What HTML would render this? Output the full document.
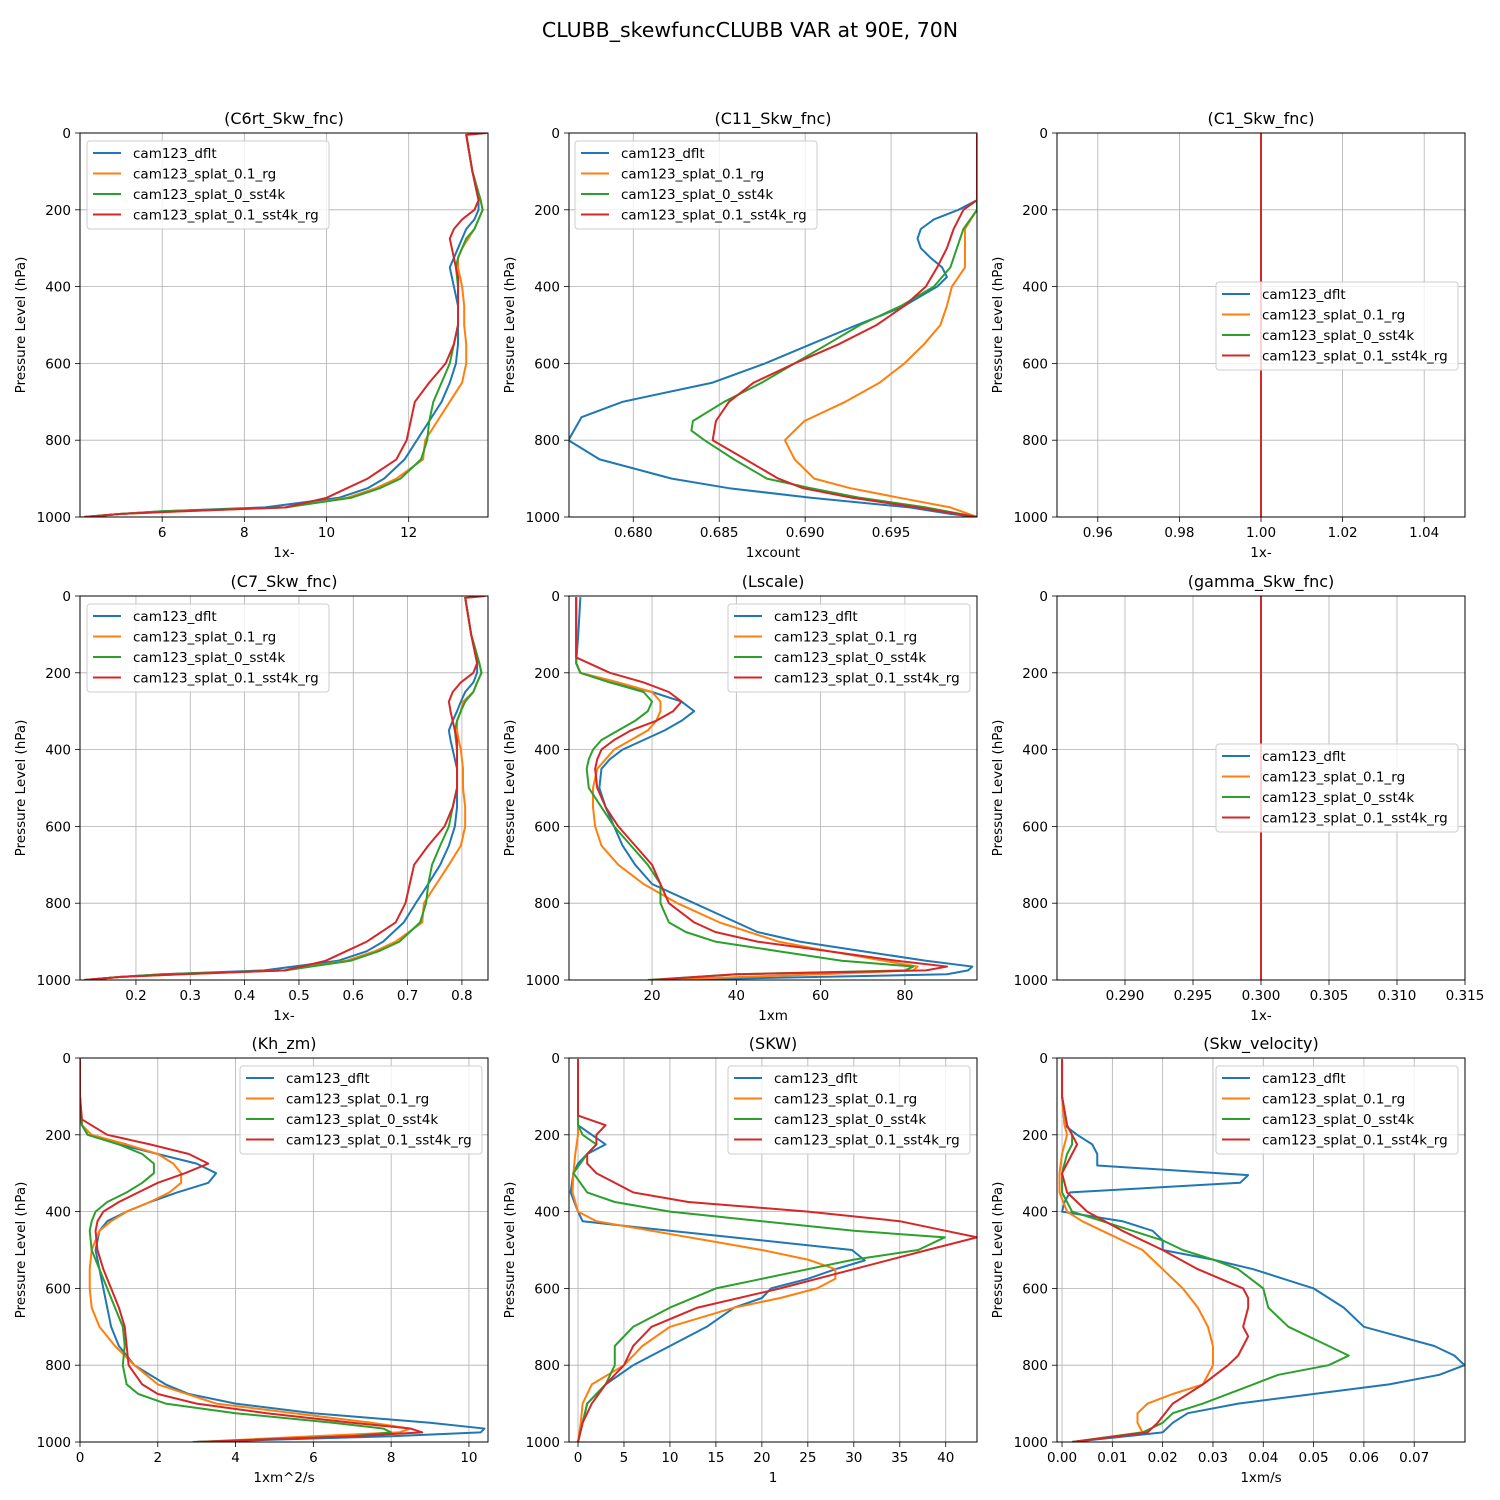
<!DOCTYPE html>
<html><head><meta charset="utf-8">
<style>
html,body{margin:0;padding:0;background:#fff;}
svg{display:block;font-family:"DejaVu Sans","Liberation Sans",sans-serif;}
</style></head>
<body>
<svg id="fig" width="1500" height="1500" viewBox="0 0 1500 1500" xmlns="http://www.w3.org/2000/svg">
<rect width="1500" height="1500" fill="#fff"/>
<text x="750" y="37" text-anchor="middle" font-size="20.5">CLUBB_skewfuncCLUBB VAR at 90E, 70N</text>
</svg>
<script>
// ---- data ----
const seriesNames = ["cam123_dflt","cam123_splat_0.1_rg","cam123_splat_0_sst4k","cam123_splat_0.1_sst4k_rg"];
const yTicks = [0,200,400,600,800,1000];

const c6rtDflt=[[3,13.4],[100,13.55],[175,13.7],[200,13.7],[225,13.6],[250,13.4],[275,13.3],[300,13.2],[325,13.1],[350,13.0],[375,13.05],[400,13.1],[425,13.15],[450,13.2],[500,13.2],[550,13.2],[600,13.15],[650,13.0],[700,12.8],[750,12.5],[800,12.2],[850,11.9],[900,11.4],[925,11.0],[950,10.3],[975,8.5],[985,6],[992,5],[1000,4.1]];
const c6rtSplatRg=[[3,13.4],[100,13.55],[175,13.75],[200,13.8],[225,13.7],[250,13.6],[275,13.45],[300,13.3],[325,13.2],[350,13.2],[375,13.25],[400,13.3],[450,13.35],[500,13.35],[550,13.4],[600,13.4],[650,13.3],[700,13.0],[750,12.7],[800,12.4],[850,12.35],[900,11.7],[925,11.2],[950,10.5],[975,9],[985,6.5],[992,5],[1000,4.1]];
const c6rtSst4k=[[3,13.4],[100,13.55],[175,13.75],[200,13.8],[225,13.7],[250,13.6],[275,13.4],[300,13.3],[325,13.2],[350,13.15],[400,13.2],[450,13.2],[500,13.2],[550,13.1],[600,13.0],[650,12.8],[700,12.6],[750,12.5],[800,12.45],[850,12.3],[900,11.8],[925,11.3],[950,10.6],[975,9],[985,6],[992,5],[1000,4.1]];
const c6rtSst4kRg=[[0,13.9],[5,13.4],[100,13.55],[175,13.7],[200,13.6],[225,13.3],[250,13.1],[275,13.0],[300,13.05],[325,13.1],[350,13.15],[375,13.2],[450,13.2],[500,13.2],[550,13.1],[600,12.9],[650,12.5],[700,12.15],[750,12.05],[800,11.95],[850,11.7],[900,11.0],[925,10.5],[950,10.0],[975,9.0],[985,6.5],[992,5],[1000,4.1]];

const c11Dflt=[[3,0.7],[100,0.7],[175,0.7],[200,0.69892],[225,0.69749],[250,0.69673],[275,0.69654],[300,0.69673],[325,0.6973],[350,0.69797],[375,0.69825],[400,0.69768],[425,0.69673],[450,0.69578],[475,0.69444],[500,0.69301],[550,0.69034],[600,0.68767],[650,0.68462],[700,0.67938],[740,0.67699],[800,0.67623],[850,0.67804],[900,0.68224],[925,0.68557],[950,0.69034],[975,0.69607],[992,0.69845],[1000,0.7]];
const c11SplatRg=[[3,0.7],[175,0.7],[200,0.7],[250,0.6993],[300,0.6993],[350,0.6993],[400,0.69854],[450,0.69825],[500,0.69787],[550,0.69692],[600,0.69578],[650,0.69434],[700,0.69234],[750,0.68996],[800,0.68882],[850,0.68939],[900,0.69053],[925,0.69263],[950,0.69549],[975,0.69845],[1000,0.7]];
const c11Sst4k=[[3,0.7],[175,0.7],[200,0.7],[250,0.69921],[300,0.69883],[350,0.69845],[400,0.69749],[450,0.69559],[500,0.6932],[550,0.6913],[600,0.68939],[650,0.68748],[700,0.68529],[750,0.68347],[775,0.68338],[800,0.68414],[850,0.68586],[900,0.68777],[925,0.69034],[950,0.6932],[975,0.69702],[1000,0.7]];
const c11Sst4kRg=[[3,0.7],[175,0.7],[200,0.69921],[250,0.69864],[300,0.69825],[350,0.69768],[400,0.69702],[450,0.69578],[500,0.69416],[550,0.69196],[600,0.68939],[650,0.68701],[700,0.68557],[750,0.68481],[800,0.68462],[850,0.68653],[900,0.68844],[925,0.68987],[950,0.69273],[975,0.69654],[1000,0.7]];

const c1All=[[0,1.0],[1000,1.0]];

const c7Dflt=[[3,0.806],[100,0.817],[175,0.828],[200,0.828],[225,0.821],[250,0.806],[275,0.798],[300,0.791],[325,0.783],[350,0.776],[375,0.779],[400,0.783],[425,0.787],[450,0.791],[500,0.791],[550,0.791],[600,0.787],[650,0.776],[700,0.760],[750,0.738],[800,0.715],[850,0.693],[900,0.655],[925,0.625],[950,0.572],[975,0.436],[985,0.248],[992,0.172],[1000,0.105]];
const c7SplatRg=[[3,0.806],[100,0.817],[175,0.832],[200,0.836],[225,0.828],[250,0.821],[275,0.802],[300,0.798],[325,0.791],[350,0.791],[375,0.794],[400,0.798],[450,0.802],[500,0.802],[550,0.806],[600,0.806],[650,0.798],[700,0.776],[750,0.753],[800,0.730],[850,0.727],[900,0.678],[925,0.640],[950,0.587],[975,0.474],[985,0.285],[992,0.172],[1000,0.105]];
const c7Sst4k=[[3,0.806],[100,0.817],[175,0.832],[200,0.836],[225,0.828],[250,0.821],[275,0.806],[300,0.798],[325,0.791],[350,0.787],[400,0.791],[450,0.791],[500,0.791],[550,0.783],[600,0.776],[650,0.760],[700,0.745],[750,0.738],[800,0.734],[850,0.723],[900,0.685],[925,0.647],[950,0.595],[975,0.474],[985,0.248],[992,0.172],[1000,0.105]];
const c7Sst4kRg=[[0,0.843],[5,0.806],[100,0.817],[175,0.828],[200,0.821],[225,0.798],[250,0.783],[275,0.776],[300,0.779],[325,0.783],[350,0.787],[375,0.791],[450,0.791],[500,0.791],[550,0.783],[600,0.768],[650,0.738],[700,0.712],[750,0.704],[800,0.696],[850,0.678],[900,0.625],[925,0.587],[950,0.549],[975,0.474],[985,0.285],[992,0.172],[1000,0.105]];

const lsDflt=[[3,3],[100,2.5],[175,2],[200,3],[225,10],[250,20],[275,27],[300,30],[325,27],[350,23],[375,18],[400,13],[425,10],[450,8],[500,7.5],[550,9],[600,11],[650,13],[700,16],[750,20],[800,30],[850,40],[875,45],[900,55],[925,70],[950,85],[965,96],[975,95],[985,90],[992,60],[1000,20]];
const lsSplatRg=[[3,2],[100,2],[175,2],[200,3],[225,12],[250,20],[275,22],[300,22],[325,21],[350,19],[375,15],[400,11],[425,9],[450,7],[500,6],[550,6],[600,6.5],[650,8],[700,12],[750,18],[800,26],[850,36],[900,50],[925,62],[950,75],[965,83],[975,82],[985,60],[1000,20]];
const lsSst4k=[[3,2],[100,2],[175,2],[200,3],[225,10],[250,18],[275,20],[300,19],[325,16],[350,12],[375,8],[400,6],[425,5],[450,4.5],[500,5],[550,8],[600,11],[650,15],[700,19],[750,22],[800,22],[850,24],[875,28],[900,35],[925,50],[950,65],[965,82],[975,80],[985,40],[1000,19]];
const lsSst4kRg=[[3,2],[100,2],[160,2],[200,10],[225,18],[250,24],[275,27],[300,25],[325,21],[350,15],[375,11],[400,8],[425,7],[450,6.5],[500,7],[550,9],[600,12],[650,16],[700,20],[750,22],[800,24],[850,30],[875,35],[900,45],[925,62],[950,78],[965,90],[975,85],[985,40],[1000,20]];

const gammaAll=[[0,0.3],[1000,0.3]];

const khDflt=[[3,0],[100,0],[175,0.05],[200,0.2],[225,1],[250,2],[275,3],[300,3.5],[325,3.3],[350,2.5],[375,1.8],[400,1.2],[425,0.7],[450,0.5],[500,0.4],[550,0.5],[600,0.6],[650,0.7],[700,0.8],[750,1],[800,1.4],[850,2.2],[875,2.8],[900,4],[925,6],[950,9],[965,10.4],[975,10.3],[985,8],[1000,3]];
const khSplatRg=[[3,0],[100,0],[175,0.05],[200,0.3],[225,1.2],[250,2],[275,2.4],[300,2.6],[325,2.6],[350,2.3],[375,1.8],[400,1.2],[425,0.8],[450,0.5],[500,0.3],[550,0.25],[600,0.25],[650,0.3],[700,0.5],[750,0.9],[800,1.4],[850,2],[900,3.5],[925,5.5],[950,7.5],[965,8.5],[975,8.2],[985,6],[1000,3]];
const khSst4k=[[3,0],[100,0],[175,0.05],[200,0.2],[225,1],[250,1.6],[275,1.9],[300,1.9],[325,1.6],[350,1.2],[375,0.7],[400,0.4],[425,0.3],[450,0.25],[500,0.3],[550,0.5],[600,0.7],[650,0.9],[700,1.1],[750,1.15],[800,1.1],[850,1.2],[875,1.5],[900,2.2],[925,4],[950,6.5],[965,7.8],[975,8],[985,7],[1000,2.9]];
const khSst4kRg=[[3,0],[100,0],[160,0.05],[200,0.7],[225,1.8],[250,2.8],[275,3.3],[300,2.7],[325,2.0],[350,1.5],[375,1.0],[400,0.6],[425,0.45],[450,0.4],[500,0.45],[550,0.6],[600,0.8],[650,1.0],[700,1.15],[750,1.2],[800,1.25],[850,1.6],[875,2.0],[900,3],[925,4.8],[950,7],[965,8.5],[975,8.8],[985,7],[1000,3]];

const skwDflt=[[3,0],[100,0],[175,0],[200,1.5],[225,3],[250,1],[275,0],[300,-0.5],[350,-0.8],[400,0],[425,0.5],[450,10],[475,20],[500,29.8],[527,31.2],[550,28],[575,25],[600,21],[625,20],[650,17],[700,14],[750,10],[800,6],[850,3],[875,2],[900,1],[950,0.5],[1000,0]];
const skwSplatRg=[[3,0],[100,0],[175,0],[200,0],[250,-0.3],[300,-0.5],[350,-0.6],[400,0],[425,2],[450,8],[475,14],[500,20],[525,25],[550,28],[575,28],[600,26],[625,22],[650,17],[700,10],[750,7],[800,5],[850,1.5],[900,0.5],[950,0.3],[1000,0]];
const skwSst4k=[[3,0],[100,0],[175,0],[200,0.5],[225,2],[250,1],[300,-0.5],[350,1],[375,4],[400,10],[425,20],[450,30],[467,39.9],[500,37],[525,30],[550,25],[575,20],[600,15],[650,10],[700,6],[750,4],[800,4],[850,3],[900,1],[950,0.5],[1000,0]];
const skwSst4kRg=[[3,0],[100,0],[150,0],[175,3],[200,2],[225,2],[250,1],[275,1],[300,2],[325,4],[350,6],[375,12],[400,25],[425,35],[450,40],[467,43.4],[500,38],[550,30],[600,22],[650,13],[700,8],[750,6],[800,5],[850,3],[900,1.5],[950,0.5],[1000,0]];

const svDflt=[[3,0],[100,0],[175,0.0005],[200,0.003],[225,0.006],[250,0.007],[280,0.007],[305,0.037],[325,0.0354],[350,0.0016],[375,0.0005],[400,0.0],[425,0.012],[450,0.018],[475,0.02],[500,0.02],[525,0.03],[550,0.038],[575,0.044],[600,0.05],[650,0.056],[700,0.06],[750,0.074],[775,0.078],[800,0.08],[825,0.075],[850,0.065],[875,0.05],[900,0.035],[925,0.025],[950,0.022],[975,0.02],[1000,0.002]];
const svSplatRg=[[3,0],[100,0],[175,0.0005],[200,0.001],[250,0.0],[300,-0.0005],[350,-0.0005],[400,0.001],[425,0.004],[450,0.008],[475,0.012],[500,0.016],[550,0.02],[600,0.024],[650,0.027],[700,0.029],[750,0.03],[800,0.03],[850,0.028],[875,0.022],[900,0.017],[925,0.015],[950,0.015],[975,0.016],[1000,0.002]];
const svSst4k=[[3,0],[100,0],[175,0.001],[200,0.002],[225,0.002],[250,0.001],[300,0.0],[350,0.0],[400,0.002],[425,0.008],[450,0.014],[475,0.02],[500,0.024],[525,0.03],[550,0.035],[600,0.04],[650,0.041],[700,0.045],[750,0.053],[775,0.057],[800,0.053],[825,0.043],[850,0.038],[900,0.028],[925,0.022],[950,0.02],[975,0.016],[1000,0.002]];
const svSst4kRg=[[3,0],[100,0],[175,0.001],[200,0.002],[225,0.003],[250,0.002],[300,0.0],[350,0.001],[400,0.005],[450,0.012],[500,0.02],[550,0.027],[600,0.036],[625,0.037],[650,0.037],[700,0.036],[725,0.037],[750,0.036],[775,0.035],[800,0.033],[850,0.028],[900,0.022],[950,0.019],[975,0.017],[1000,0.002]];

const ticksC6rt=[6,8,10,12];
const ticksC11=[0.680,0.685,0.690,0.695];
const ticksC1=[0.96,0.98,1.00,1.02,1.04];
const ticksC7=[0.2,0.3,0.4,0.5,0.6,0.7,0.8];
const ticksLs=[20,40,60,80];
const ticksGamma=[0.290,0.295,0.300,0.305,0.310,0.315];
const ticksKh=[0,2,4,6,8,10];
const ticksSkw=[0,5,10,15,20,25,30,35,40];
const ticksSv=[0.00,0.01,0.02,0.03,0.04,0.05,0.06,0.07];

// ---- layout ----
const colors=["#1f77b4","#ff7f0e","#2ca02c","#d62728"];
const colX=[80,569,1057], rowY=[133,596,1058], W=408, H=384;
const panels=[
 {name:"c6rt",title:"(C6rt_Skw_fnc)",xl:"1x-",dom:[4.0,13.93],ticks:ticksC6rt,dec:0,series:[c6rtDflt,c6rtSplatRg,c6rtSst4k,c6rtSst4kRg],leg:[87,141]},
 {name:"c11",title:"(C11_Skw_fnc)",xl:"1xcount",dom:[0.67626,0.7],ticks:ticksC11,dec:3,series:[c11Dflt,c11SplatRg,c11Sst4k,c11Sst4kRg],leg:[575,141]},
 {name:"c1",title:"(C1_Skw_fnc)",xl:"1x-",dom:[0.95,1.05],ticks:ticksC1,dec:2,series:[c1All,c1All,c1All,c1All],leg:[1216,282]},
 {name:"c7",title:"(C7_Skw_fnc)",xl:"1x-",dom:[0.097,0.848],ticks:ticksC7,dec:1,series:[c7Dflt,c7SplatRg,c7Sst4k,c7Sst4kRg],leg:[87,604]},
 {name:"lscale",title:"(Lscale)",xl:"1xm",dom:[0.3,97.1],ticks:ticksLs,dec:0,series:[lsDflt,lsSplatRg,lsSst4k,lsSst4kRg],leg:[728,604]},
 {name:"gamma",title:"(gamma_Skw_fnc)",xl:"1x-",dom:[0.285,0.315],ticks:ticksGamma,dec:3,series:[gammaAll,gammaAll,gammaAll,gammaAll],leg:[1216,744]},
 {name:"kh-zm",title:"(Kh_zm)",xl:"1xm^2/s",dom:[0,10.49],ticks:ticksKh,dec:0,series:[khDflt,khSplatRg,khSst4k,khSst4kRg],leg:[240,1066]},
 {name:"skw",title:"(SKW)",xl:"1",dom:[-0.98,43.4],ticks:ticksSkw,dec:0,series:[skwDflt,skwSplatRg,skwSst4k,skwSst4kRg],leg:[728,1066]},
 {name:"skw-velocity",title:"(Skw_velocity)",xl:"1xm/s",dom:[-0.001,0.0801],ticks:ticksSv,dec:2,series:[svDflt,svSplatRg,svSst4k,svSst4kRg],leg:[1216,1066]}
];
const NS="http://www.w3.org/2000/svg";
const fig=document.getElementById('fig');
function mk(tag,attrs,parent){const e=document.createElementNS(NS,tag);for(const k in attrs)e.setAttribute(k,attrs[k]);parent.appendChild(e);return e;}

panels.forEach((p,i)=>{
  const x0=colX[i%3], y0=rowY[Math.floor(i/3)];
  const g=mk('g',{},fig);
  
  
  const sx=v=>x0+(v-p.dom[0])/(p.dom[1]-p.dom[0])*W;
  const sy=v=>y0+v/1000*H;
  p.ticks.forEach(t=>{
    const x=sx(t);
    const gl=mk('line',{x1:x,x2:x,y1:y0,y2:y0+H,stroke:'#b0b0b0','stroke-width':0.8},g);
    
    
    mk('line',{x1:x,x2:x,y1:y0+H,y2:y0+H+5,stroke:'#000','stroke-width':0.8},g);
    const tl=mk('text',{x:x,y:y0+H+20,'text-anchor':'middle','font-size':13.5},g);
    tl.textContent=t.toFixed(p.dec);
    
    
  });
  yTicks.forEach(t=>{
    const y=sy(t);
    const gl=mk('line',{x1:x0,x2:x0+W,y1:y,y2:y,stroke:'#b0b0b0','stroke-width':0.8},g);
    
    
    mk('line',{x1:x0-5,x2:x0,y1:y,y2:y,stroke:'#000','stroke-width':0.8},g);
    const tl=mk('text',{x:x0-9,y:y+5,'text-anchor':'end','font-size':13.5},g);
    tl.textContent=t;
    
    
  });
  const cp=mk('clipPath',{id:'cp'+i},g);
  mk('rect',{x:x0,y:y0,width:W,height:H},cp);
  p.series.forEach((s,k)=>{
    const d=s.map((pt,j)=>(j?'L':'M')+sx(pt[1]).toFixed(2)+','+sy(pt[0]).toFixed(2)).join(' ');
    const pl=mk('path',{d:d,fill:'none',stroke:colors[k],'stroke-width':2,'stroke-linejoin':'round','clip-path':'url(#cp'+i+')'},g);
    
    
  });
  mk('rect',{x:x0,y:y0,width:W,height:H,fill:'none',stroke:'#000','stroke-width':1},g);
  const tt=mk('text',{x:x0+W/2,y:y0-9,'text-anchor':'middle','font-size':16},g);
  tt.textContent=p.title;
  
  
  const xl=mk('text',{x:x0+W/2,y:y0+H+40,'text-anchor':'middle','font-size':13.5},g);
  xl.textContent=p.xl;
  
  
  const yl=mk('text',{x:0,y:0,'text-anchor':'middle','font-size':13.5,transform:`translate(${x0-55},${y0+H/2}) rotate(-90)`},g);
  yl.textContent='Pressure Level (hPa)';
  
  
  const lg=mk('g',{},g);
  
  
  const [lx,ly]=p.leg;
  mk('rect',{x:lx,y:ly,width:242,height:88,rx:3,fill:'#fff','fill-opacity':0.8,stroke:'#ccc','stroke-width':1},lg);
  seriesNames.forEach((n,k)=>{
    const yy=ly+12+k*20.5;
    mk('line',{x1:lx+6,x2:lx+34,y1:yy,y2:yy,stroke:colors[k],'stroke-width':2},lg);
    const lt=mk('text',{x:lx+46,y:yy+5,'font-size':13.5},lg);
    lt.textContent=n;
    
    
  });
});
</script>
</body></html>
